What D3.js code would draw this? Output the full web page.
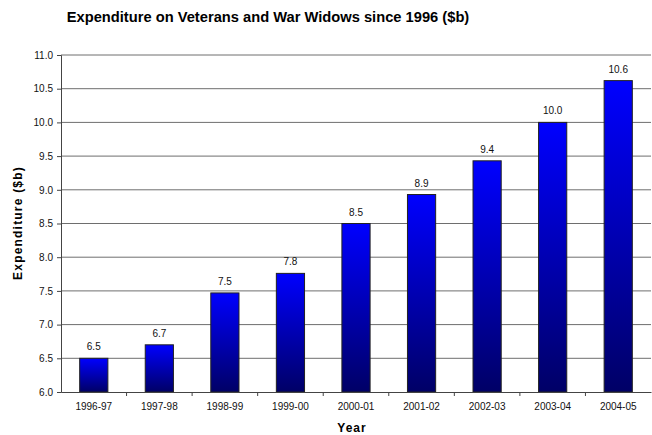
<!DOCTYPE html>
<html>
<head>
<meta charset="utf-8">
<script src="https://cdn.jsdelivr.net/npm/d3@7"></script>
<style>
  body { margin: 0; background: #fff; }
  text { font-family: "Liberation Sans", Arial, sans-serif; }
</style>
</head>
<body>
<div id="chart"></div>
<script>
// data
const years = ["1996-97", "1997-98", "1998-99", "1999-00", "2000-01", "2001-02", "2002-03", "2003-04", "2004-05"];
const expenditure = [6.5, 6.7, 7.47, 7.76, 8.5, 8.93, 9.43, 10.0, 10.62];
const yTicks = [6.0, 6.5, 7.0, 7.5, 8.0, 8.5, 9.0, 9.5, 10.0, 10.5, 11.0];

const width = 652, height = 435;
const margin = {top: 55, right: 1, bottom: 43, left: 61};

const svg = d3.select("#chart")
  .append("svg")
    .attr("width", width)
    .attr("height", height);

const defs = svg.append("defs");
const grad = defs.append("linearGradient")
    .attr("id", "barGrad")
    .attr("x1", 0).attr("y1", 0).attr("x2", 0).attr("y2", 1);
grad.append("stop").attr("offset", "0%").attr("stop-color", "#0000ff");
grad.append("stop").attr("offset", "100%").attr("stop-color", "#000066");

const x = d3.scaleBand()
    .domain(years)
    .range([margin.left, width - margin.right])
    .paddingInner(0.57)
    .paddingOuter(0.285);

const y = d3.scaleLinear()
    .domain([6, 11])
    .range([height - margin.bottom, margin.top]);

// gridlines
svg.append("g")
  .selectAll("line")
  .data(yTicks.slice(1))
  .join("line")
    .attr("x1", margin.left)
    .attr("x2", width - margin.right)
    .attr("y1", d => y(d))
    .attr("y2", d => y(d))
    .attr("stroke", "#6e6e6e")
    .attr("stroke-width", 1);

// bars
const data = years.map((d, i) => ({year: d, value: expenditure[i]}));

svg.append("g")
  .selectAll("rect")
  .data(data)
  .join("rect")
    .attr("x", d => x(d.year))
    .attr("y", d => y(d.value))
    .attr("width", x.bandwidth())
    .attr("height", d => y(6) - y(d.value))
    .attr("fill", "url(#barGrad)")
    .attr("stroke", "#222")
    .attr("stroke-width", 1);

// value labels
svg.append("g")
  .selectAll("text")
  .data(data)
  .join("text")
    .attr("x", d => x(d.year) + x.bandwidth() / 2)
    .attr("y", d => y(d.value) - 8)
    .attr("text-anchor", "middle")
    .style("font-size", "10px")
    .attr("fill", "#111")
    .text(d => d3.format(".1f")(d.value));

// y axis
const yAxis = svg.append("g")
    .attr("transform", `translate(${margin.left},0)`)
    .call(d3.axisLeft(y).tickValues(yTicks).tickFormat(d3.format(".1f")).tickSizeOuter(0).tickSize(4).tickPadding(4));
yAxis.select(".domain").attr("stroke", "#444");
yAxis.selectAll(".tick line").attr("stroke", "#444");
yAxis.selectAll(".tick text").style("font-size", "10px").attr("fill", "#111")
    .style("font-family", "'Liberation Sans', Arial, sans-serif");

// x axis
const xAxis = svg.append("g")
    .attr("transform", `translate(0,${y(6)})`)
    .call(d3.axisBottom(x).tickSize(0).tickPadding(11));
xAxis.select(".domain").attr("stroke", "#444");
xAxis.selectAll(".tick text").style("font-size", "10px").attr("fill", "#111")
    .style("font-family", "'Liberation Sans', Arial, sans-serif");

// category separator ticks
const step = x.step();
svg.append("g")
  .selectAll("line")
  .data(years.slice(1))
  .join("line")
    .attr("x1", d => x(d) - step * x.paddingInner() / 2)
    .attr("x2", d => x(d) - step * x.paddingInner() / 2)
    .attr("y1", y(6))
    .attr("y2", y(6) + 4)
    .attr("stroke", "#444");

// title
svg.append("text")
    .attr("x", 268)
    .attr("y", 22)
    .attr("text-anchor", "middle")
    .style("font-size", "14.7px")
    .style("font-weight", "bold")
    .text("Expenditure on Veterans and War Widows since 1996 ($b)");

// axis titles
svg.append("text")
    .attr("transform", "translate(22,223) rotate(-90)")
    .attr("text-anchor", "middle")
    .style("font-size", "12px")
    .style("font-weight", "bold")
    .style("letter-spacing", "1.2px")
    .text("Expenditure ($b)");

svg.append("text")
    .attr("x", 352)
    .attr("y", 432)
    .attr("text-anchor", "middle")
    .style("font-size", "12px")
    .style("font-weight", "bold")
    .style("letter-spacing", "1px")
    .text("Year");
</script>
</body>
</html>
